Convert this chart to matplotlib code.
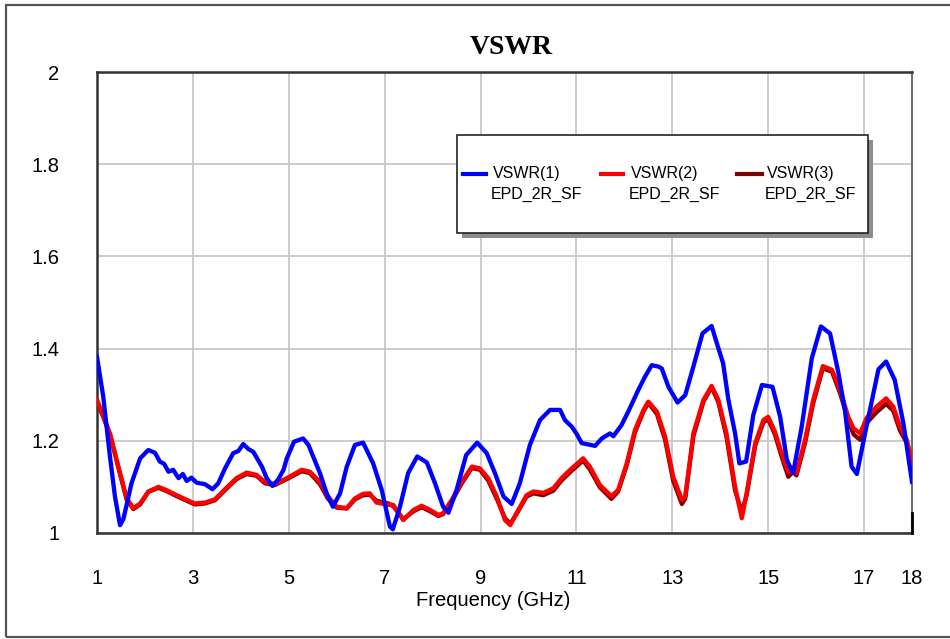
import numpy as np
import matplotlib.pyplot as plt
from matplotlib.lines import Line2D
from matplotlib.patches import Rectangle

# VSWR(1) EPD_2R_SF
freq1 = [1.00, 1.13, 1.27, 1.375, 1.48, 1.55, 1.72, 1.90, 2.07, 2.21, 2.31, 2.40, 2.49, 2.59,
         2.70, 2.79, 2.87, 2.97, 3.08, 3.25, 3.41, 3.53, 3.67, 3.84, 3.95, 4.05, 4.16, 4.26,
         4.44, 4.54, 4.66, 4.78, 4.89, 4.96, 5.11, 5.30, 5.41, 5.65, 5.79, 5.92, 6.07, 6.21,
         6.38, 6.55, 6.76, 6.94, 7.11, 7.17, 7.32, 7.49, 7.68, 7.88, 8.05, 8.22, 8.33, 8.50,
         8.70, 8.93, 9.13, 9.30, 9.48, 9.65, 9.82, 10.03, 10.24, 10.45, 10.66, 10.76, 10.90,
         11.00, 11.11, 11.39, 11.53, 11.70, 11.77, 11.94, 12.08, 12.29, 12.43, 12.57, 12.71,
         12.78, 12.92, 13.11, 13.27, 13.44, 13.63, 13.82, 13.94, 14.06, 14.17, 14.31, 14.40,
         14.54, 14.69, 14.87, 15.09, 15.25, 15.39, 15.52, 15.70, 15.91, 16.10, 16.29, 16.46,
         16.60, 16.74, 16.85, 17.05, 17.30, 17.46, 17.64, 17.82, 18.00]
vswr1 = [1.382, 1.296, 1.166, 1.079, 1.017, 1.030, 1.108, 1.162, 1.180, 1.174, 1.155, 1.150,
         1.133, 1.137, 1.119, 1.128, 1.113, 1.120, 1.109, 1.106, 1.095, 1.108, 1.140, 1.173,
         1.178, 1.193, 1.182, 1.176, 1.144, 1.119, 1.102, 1.116, 1.137, 1.162, 1.198, 1.205,
         1.191, 1.130, 1.086, 1.057, 1.086, 1.144, 1.191, 1.196, 1.151, 1.093, 1.014, 1.008,
         1.057, 1.130, 1.166, 1.153, 1.108, 1.057, 1.044, 1.093, 1.169, 1.196, 1.173, 1.130,
         1.079, 1.063, 1.108, 1.191, 1.245, 1.267, 1.267, 1.245, 1.231, 1.216, 1.195, 1.189,
         1.205, 1.216, 1.210, 1.234, 1.263, 1.310, 1.339, 1.364, 1.361, 1.357, 1.317, 1.283,
         1.299, 1.361, 1.433, 1.449, 1.408, 1.368, 1.289, 1.216, 1.151, 1.155, 1.256, 1.321,
         1.317, 1.252, 1.158, 1.130, 1.231, 1.379, 1.448, 1.433, 1.350, 1.267, 1.144, 1.128,
         1.231, 1.355, 1.372, 1.332, 1.238, 1.111]

# VSWR(2) / VSWR(3) EPD_2R_SF
freq2 = [1.00, 1.27, 1.48, 1.62, 1.76, 1.90, 2.07, 2.28, 2.45, 2.66, 2.87, 3.04, 3.25, 3.46,
         3.67, 3.91, 4.12, 4.33, 4.50, 4.71, 4.96, 5.27, 5.44, 5.65, 5.82, 6.00, 6.21, 6.38,
         6.55, 6.69, 6.83, 7.08, 7.18, 7.39, 7.60, 7.77, 7.95, 8.12, 8.22, 8.40, 8.61, 8.82,
         8.99, 9.16, 9.34, 9.51, 9.62, 9.75, 9.96, 10.10, 10.31, 10.52, 10.69, 10.90, 11.14,
         11.28, 11.49, 11.73, 11.87, 12.05, 12.22, 12.40, 12.50, 12.68, 12.85, 13.02, 13.20,
         13.27, 13.44, 13.65, 13.82, 13.96, 14.13, 14.31, 14.45, 14.55, 14.73, 14.90, 15.00,
         15.14, 15.28, 15.42, 15.52, 15.59, 15.77, 15.94, 16.14, 16.33, 16.50, 16.67, 16.78,
         16.92, 17.05, 17.26, 17.46, 17.61, 17.75, 17.89, 18.00]
vswr2 = [1.289, 1.216, 1.130, 1.075, 1.054, 1.064, 1.090, 1.100, 1.093, 1.082, 1.072, 1.064,
         1.066, 1.073, 1.095, 1.119, 1.131, 1.126, 1.111, 1.106, 1.119, 1.137, 1.133, 1.111,
         1.079, 1.057, 1.054, 1.075, 1.085, 1.086, 1.066, 1.061, 1.061, 1.028, 1.050, 1.059,
         1.050, 1.039, 1.043, 1.072, 1.111, 1.144, 1.140, 1.119, 1.079, 1.028, 1.017, 1.043,
         1.082, 1.090, 1.087, 1.097, 1.119, 1.140, 1.162, 1.144, 1.104, 1.080, 1.093, 1.151,
         1.223, 1.267, 1.285, 1.263, 1.209, 1.122, 1.072, 1.079, 1.216, 1.289, 1.319, 1.289,
         1.216, 1.100, 1.032, 1.086, 1.195, 1.245, 1.252, 1.220, 1.173, 1.133, 1.140, 1.130,
         1.202, 1.289, 1.362, 1.354, 1.310, 1.252, 1.227, 1.216, 1.249, 1.274, 1.292, 1.274,
         1.231, 1.202, 1.155]
vswr3 = [1.286, 1.214, 1.128, 1.072, 1.052, 1.062, 1.089, 1.098, 1.091, 1.080, 1.070, 1.062,
         1.064, 1.071, 1.093, 1.117, 1.128, 1.124, 1.108, 1.104, 1.117, 1.134, 1.130, 1.106,
         1.074, 1.055, 1.053, 1.073, 1.082, 1.083, 1.070, 1.064, 1.058, 1.030, 1.047, 1.056,
         1.047, 1.037, 1.041, 1.069, 1.108, 1.141, 1.137, 1.114, 1.074, 1.032, 1.020, 1.041,
         1.079, 1.086, 1.082, 1.092, 1.114, 1.135, 1.157, 1.138, 1.099, 1.074, 1.090, 1.147,
         1.218, 1.264, 1.282, 1.258, 1.202, 1.113, 1.063, 1.075, 1.210, 1.285, 1.316, 1.284,
         1.209, 1.092, 1.045, 1.082, 1.190, 1.240, 1.247, 1.214, 1.166, 1.122, 1.133, 1.125,
         1.196, 1.282, 1.357, 1.350, 1.303, 1.245, 1.214, 1.202, 1.238, 1.262, 1.280, 1.265,
         1.222, 1.196, 1.150]

x_ticks = [1, 3, 5, 7, 9, 11, 13, 15, 17, 18]
y_ticks = [1, 1.2, 1.4, 1.6, 1.8, 2]
y_tick_labels = ['1', '1.2', '1.4', '1.6', '1.8', '2']
legend_labels = ['VSWR(1)', 'VSWR(2)', 'VSWR(3)']
legend_sub = 'EPD_2R_SF'
colors = ['#0000ff', '#ff0000', '#800000']

W, H = 950, 639
plt.rcParams['font.family'] = ['Liberation Sans', 'DejaVu Sans']

fig = plt.figure(figsize=(W / 100, H / 100), dpi=100)

def fx(px):
    return px / W

def fy(py):
    return 1 - py / H

ax = fig.add_axes([fx(97), fy(533), fx(912) - fx(97), fy(72) - fy(533)])

ax.plot(freq1, vswr1, color=colors[0], lw=3.1, zorder=4, solid_joinstyle='round')
ax.plot(freq2, vswr3, color=colors[2], lw=3.1, zorder=2, solid_joinstyle='round')
ax.plot(freq2, vswr2, color=colors[1], lw=3.1, zorder=3, solid_joinstyle='round')

ax.set_xlim(1, 18)
ax.set_ylim(1, 2)
ax.set_xticks(x_ticks)
ax.set_xticklabels([str(t) for t in x_ticks])
ax.set_yticks(y_ticks)
ax.set_yticklabels(y_tick_labels)
ax.tick_params(axis='both', length=0, labelsize=14.5, colors='black')
ax.tick_params(axis='x', pad=26)
ax.tick_params(axis='y', pad=27)
ax.grid(True, color='#c8c8c8', lw=1.3)
ax.set_axisbelow(True)

for side in ['left', 'bottom', 'top']:
    ax.spines[side].set_color('#333333')
    ax.spines[side].set_linewidth(1.8)
ax.spines['right'].set_color('#707070')
ax.spines['right'].set_linewidth(1.5)
# dark stub at the lower end of the right frame
ax.plot([1, 1], [0, 0.043], transform=ax.transAxes, color='black', lw=2, clip_on=False, zorder=5)

# title and x label
fig.text(fx(511), fy(47), 'VSWR', ha='center', va='center', fontsize=20,
         fontweight='bold', family=['Liberation Serif', 'DejaVu Serif'])
fig.text(fx(493), fy(601), 'Frequency (GHz)', ha='center', va='center', fontsize=14.5)

# outer frame
fig.add_artist(Rectangle((fx(6), fy(637)), 1.2, fy(5) - fy(637), transform=fig.transFigure,
                         fill=False, edgecolor='#555555', lw=1.6))

# legend box with shadow
fig.add_artist(Rectangle((fx(462), fy(238)), fx(868) - fx(457), fy(135) - fy(233),
                         transform=fig.transFigure, facecolor='#8c8c8c', edgecolor='none', zorder=6))
fig.add_artist(Rectangle((fx(457), fy(233)), fx(868) - fx(457), fy(135) - fy(233),
                         transform=fig.transFigure, facecolor='white', edgecolor='#222222',
                         lw=1.2, zorder=7))
handle_x = [(463, 486), (601, 623), (737, 762)]
text_x = [493, 631, 767]
for i in range(3):
    fig.add_artist(Line2D([fx(handle_x[i][0]), fx(handle_x[i][1])], [fy(174), fy(174)],
                          transform=fig.transFigure, color=colors[i], lw=3, zorder=8))
    fig.text(fx(text_x[i]), fy(174), legend_labels[i], ha='left', va='center',
             fontsize=11.5, zorder=8)
    fig.text(fx(text_x[i] - 2), fy(194), legend_sub, ha='left', va='center',
             fontsize=11.5, zorder=8)

fig.savefig('out.png', dpi=100)
